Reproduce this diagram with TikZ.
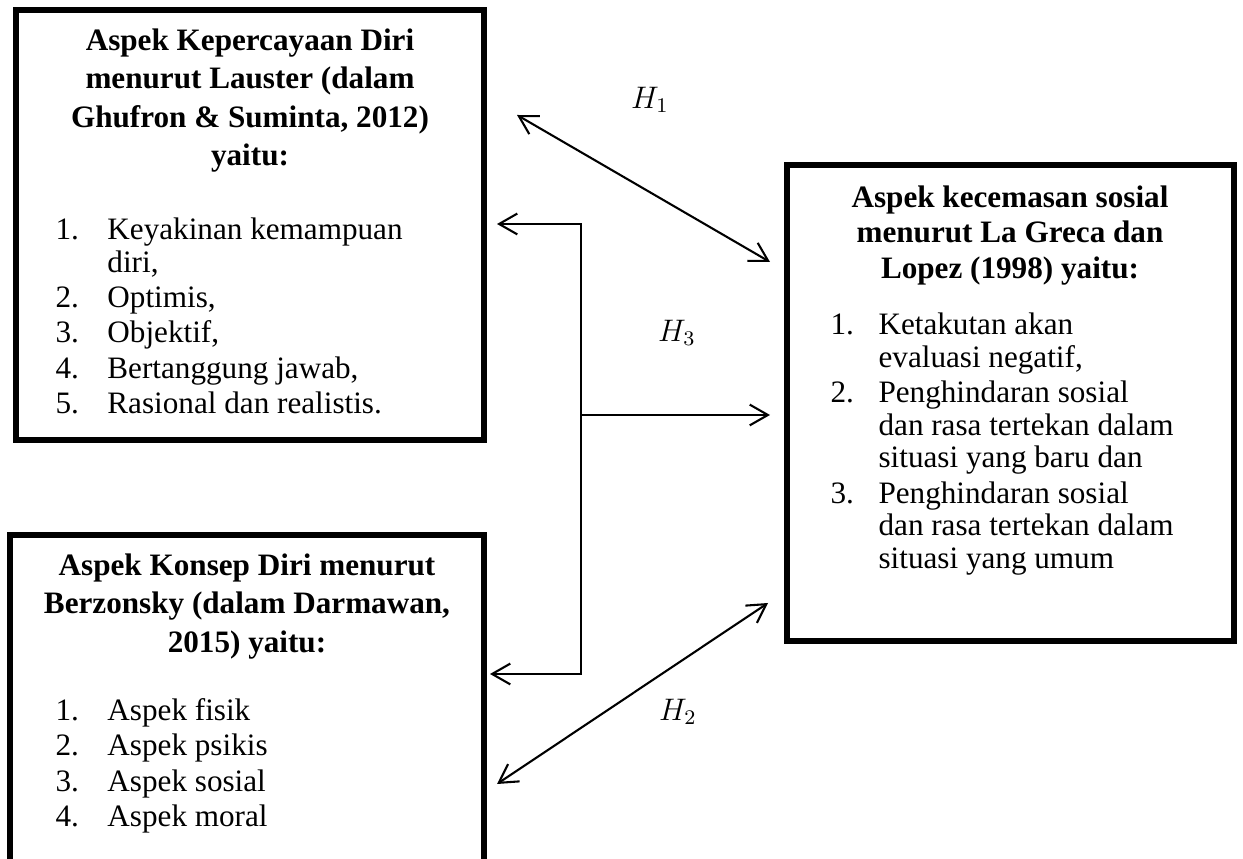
\documentclass[tikz,border=0pt]{standalone}
\usepackage{fontspec}
\setmainfont{Liberation Serif}
\usetikzlibrary{arrows.meta,fit}
\begin{document}
\begin{tikzpicture}[x=0.385pt,y=-0.385pt,
  kotak/.style={draw,line width=2pt,inner sep=0pt},
  judul/.style={font=\fontsize{12}{14.8}\selectfont\bfseries,align=center,anchor=north,inner sep=0pt},
  daftar/.style={font=\fontsize{12}{12.6}\selectfont,anchor=north west,inner sep=0pt},
  panah/.style={line width=0.8pt,{Straight Barb[length=7pt,width=8pt]}-{Straight Barb[length=7pt,width=8pt]}},
  hipotesis/.style={font=\fontsize{12}{14}\selectfont,inner sep=0pt}]
  \useasboundingbox (0,0) rectangle (1243,859);
  \clip (0,0) rectangle (1243,859);

  \node[kotak,fit={(16,10) (484,440)}] (kotakPD) {};
  \node[kotak,fit={(10,535) (484,900)}] (kotakKD) {};
  \node[kotak,fit={(787,165) (1234,641)}] (kotakKS) {};

  \node[judul] (judulPD) at (250,28) {Aspek Kepercayaan Diri\\menurut Lauster (dalam\\Ghufron \& Suminta, 2012)\\yaitu:};
  \node[daftar] (isiPD) at (55,216) {\begin{tabular}{@{}p{20pt}@{}l@{}}
    1. & Keyakinan kemampuan\\
       & diri,\\[1pt]
    2. & Optimis,\\[1pt]
    3. & Objektif,\\[1pt]
    4. & Bertanggung jawab,\\[1pt]
    5. & Rasional dan realistis.
  \end{tabular}};

  \node[judul] (judulKD) at (247,553) {Aspek Konsep Diri menurut\\Berzonsky (dalam Darmawan,\\2015) yaitu:};
  \node[daftar] (isiKD) at (55,697) {\begin{tabular}{@{}p{20pt}@{}l@{}}
    1. & Aspek fisik\\[1pt]
    2. & Aspek psikis\\[1pt]
    3. & Aspek sosial\\[1pt]
    4. & Aspek moral
  \end{tabular}};

  \node[judul,font=\fontsize{12}{13.8}\selectfont\bfseries] (judulKS) at (1010,185) {Aspek kecemasan sosial\\menurut La Greca dan\\Lopez (1998) yaitu:};
  \node[daftar] (isiKS) at (830,311) {\begin{tabular}{@{}p{18.5pt}@{}l@{}}
    1. & Ketakutan akan\\
       & evaluasi negatif,\\[1pt]
    2. & Penghindaran sosial\\
       & dan rasa tertekan dalam\\
       & situasi yang baru dan\\[1pt]
    3. & Penghindaran sosial\\
       & dan rasa tertekan dalam\\
       & situasi yang umum
  \end{tabular}};

  \coordinate (h1a) at (517,115);
  \coordinate (h1b) at (770,262);
  \coordinate (ujungPD) at (497,224);
  \coordinate (sikuPD) at (581,224);
  \coordinate (sikuKD) at (581,674);
  \coordinate (ujungKD) at (490,674);
  \coordinate (cabang) at (581,415);
  \coordinate (ujungKS) at (770,415);
  \coordinate (h2a) at (497,784);
  \coordinate (h2b) at (768,603);

  \draw[panah] (h1a) -- (h1b);
  \draw[panah] (ujungPD) -- (sikuPD) -- (sikuKD) -- (ujungKD);
  \draw[panah,-{Straight Barb[length=7pt,width=8pt]}] (cabang) -- (ujungKS);
  \draw[panah] (h2a) -- (h2b);

  \node[hipotesis] (H1) at (650,100) {$H_1$};
  \node[hipotesis] (H3) at (677,333) {$H_3$};
  \node[hipotesis] (H2) at (678,712) {$H_2$};
\end{tikzpicture}
\end{document}
